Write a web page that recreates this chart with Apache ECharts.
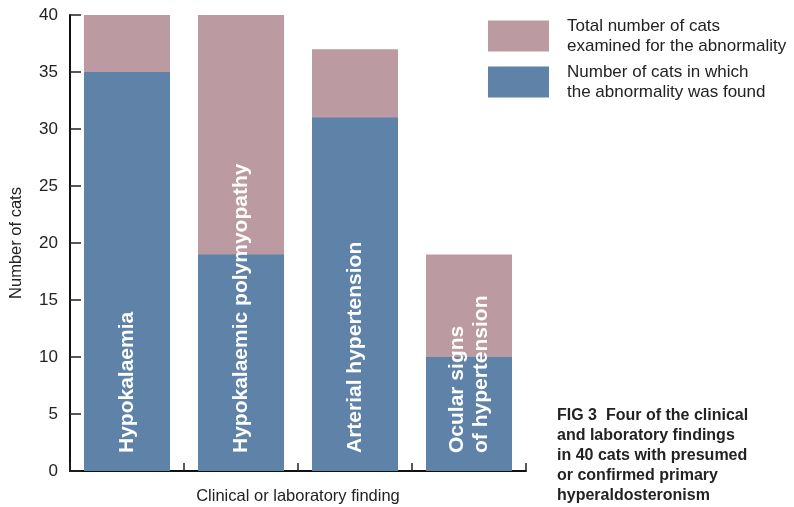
<!DOCTYPE html>
<html>
<head>
<meta charset="utf-8">
<script src="https://cdn.jsdelivr.net/npm/echarts@6/dist/echarts.min.js"></script>
<style>html,body{margin:0;padding:0;background:#fff}#c{width:794px;height:507px}</style>
</head>
<body>
<div id="c"></div>
<script>
var categories = ['Hypokalaemia', 'Hypokalaemic polymyopathy', 'Arterial hypertension', 'Ocular signs\nof hypertension'];
var totalExamined = [40, 40, 37, 19];
var foundCount = [35, 19, 31, 10];
var yTicks = [0, 5, 10, 15, 20, 25, 30, 35, 40];
var legendNames = ['Total number of cats\nexamined for the abnormality', 'Number of cats in which\nthe abnormality was found'];
var captionText = 'FIG 3  Four of the clinical\nand laboratory findings\nin 40 cats with presumed\nor confirmed primary\nhyperaldosteronism';

var FONT = 'Liberation Sans, Arial, Helvetica, sans-serif';
var chart = echarts.init(document.getElementById('c'), null, {renderer: 'canvas'});
chart.setOption({
  animation: false,
  backgroundColor: '#fff',
  textStyle: {fontFamily: FONT},
  title: {
    text: captionText,
    left: 557, top: 406,
    padding: 0,
    textStyle: {fontFamily: FONT, fontSize: 16, fontWeight: 'bold', lineHeight: 20, color: '#222'}
  },
  legend: {
    orient: 'vertical',
    left: 488, top: 16,
    padding: 0,
    itemWidth: 61, itemHeight: 31,
    itemGap: 6,
    icon: 'rect',
    data: legendNames,
    textStyle: {fontFamily: FONT, fontSize: 17, lineHeight: 20, color: '#222', padding: [0, 0, 0, 13]}
  },
  grid: {left: 70, right: 268, top: 15, bottom: 36, containLabel: false, outerBoundsMode: 'none'},
  xAxis: {
    type: 'category',
    data: categories,
    name: 'Clinical or laboratory finding',
    nameLocation: 'middle',
    nameGap: 17,
    nameTextStyle: {fontFamily: FONT, fontSize: 16.5, color: '#222'},
    axisLine: {lineStyle: {color: '#111', width: 2}},
    axisTick: {show: true, inside: true, interval: 0, length: 8, lineStyle: {color: '#222', width: 1.5}},
    axisLabel: {show: false, interval: 0}
  },
  yAxis: {
    type: 'value',
    min: yTicks[0], max: yTicks[yTicks.length - 1], interval: 5,
    name: 'Number of cats',
    nameLocation: 'middle',
    nameGap: 45,
    nameTextStyle: {fontFamily: FONT, fontSize: 16.5, color: '#222'},
    axisLine: {show: true, lineStyle: {color: '#111', width: 2}},
    axisTick: {show: true, inside: true, length: 11, lineStyle: {color: '#222', width: 1.5}},
    axisLabel: {fontFamily: FONT, fontSize: 17, color: '#222', margin: 12},
    splitLine: {show: false}
  },
  series: [
    {
      name: legendNames[0],
      type: 'bar',
      data: totalExamined,
      barWidth: 86,
      barGap: '-100%',
      itemStyle: {color: '#BB9AA1'}
    },
    {
      name: legendNames[1],
      type: 'bar',
      data: foundCount,
      barWidth: 86,
      barGap: '-100%',
      itemStyle: {color: '#5E82A8'},
      label: {
        show: true,
        position: 'insideBottom',
        distance: 18,
        rotate: 90,
        align: 'left',
        verticalAlign: 'middle',
        formatter: '{b}',
        color: '#fff',
        fontFamily: FONT,
        fontWeight: 'bold',
        fontSize: 21,
        lineHeight: 24
      }
    }
  ]
});
</script>
</body>
</html>
